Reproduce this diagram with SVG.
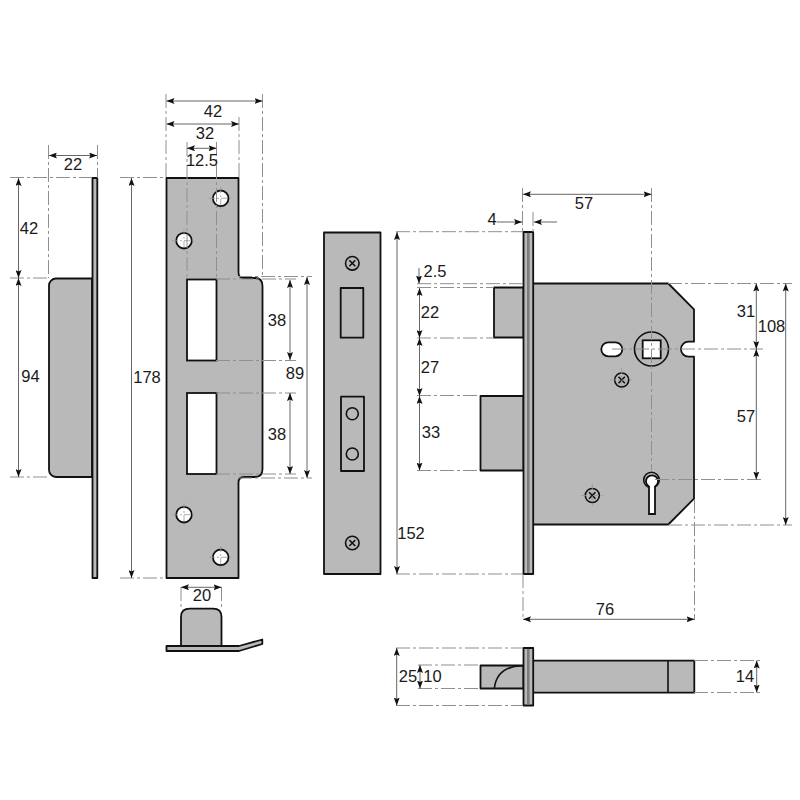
<svg xmlns="http://www.w3.org/2000/svg" width="800" height="800" viewBox="0 0 800 800">
<defs>
<marker id="a" viewBox="0 0 8 6" refX="8" refY="3" markerWidth="8" markerHeight="6" orient="auto-start-reverse" markerUnits="userSpaceOnUse"><path d="M0 0L8 3L0 6L1.5 3Z" fill="#111"/></marker>
</defs>
<style>
.p{fill:#b9b9b9;stroke:#111;stroke-width:1.8;stroke-linejoin:round}
.w{fill:#fff;stroke:#111;stroke-width:1.8}
.o{fill:none;stroke:#111;stroke-width:1.6}
.e{fill:none;stroke:#8f8f8f;stroke-width:1;stroke-dasharray:14 3 3 3}
.d{fill:none;stroke:#666;stroke-width:1;marker-start:url(#a);marker-end:url(#a)}
.s{fill:none;stroke:#666;stroke-width:1;marker-end:url(#a)}
.c{fill:none;stroke:#999;stroke-width:.8}
text{font-family:"Liberation Sans",Arial,sans-serif;font-size:16.5px;fill:#1a1a1a;text-anchor:middle}
</style>
<rect width="800" height="800" fill="#fff"/>
<g id="strike-side">
<path class="p" d="M92 278.500H56a7 7 0 0 0-7 7V470a7 7 0 0 0 7 7H92Z"/>
<rect class="p" x="92.500" y="178" width="4.800" height="400"/>
</g>
<g id="strike-front">
<path class="p" d="M166.500 178H238.500V272.500Q238.500 278 244 278H255Q262.500 278 262.500 286V469Q262.500 477 255 477H244Q238.500 477 238.500 482.500V578H166.500Z"/>
<rect class="w" x="187" y="279.500" width="29.500" height="81"/>
<rect class="w" x="187" y="393" width="29.500" height="81"/>
<circle class="w" cx="220.700" cy="198.300" r="7.800"/>
<circle class="w" cx="184" cy="240.700" r="7.800"/>
<circle class="w" cx="184" cy="514.700" r="7.800"/>
<circle class="w" cx="220.700" cy="557.300" r="7.800"/>
<path class="c" d="M209 198.300h24M220.700 187v23M172 240.700h24M184 229v23M172 514.700h24M184 503v23M209 557.300h24M220.700 546v23" stroke-dasharray="6 2 2 2"/>
</g>
<g id="strike-end">
<path class="p" d="M181 646V617Q181 608.700 190 608.700H213Q221.500 608.700 221.500 617V646Z"/>
<path class="p" d="M166.500 646H239L262.300 639.500V644L239 651H166.500Z"/>
</g>
<g id="front-plate">
<rect class="p" x="324" y="232.500" width="56.500" height="341.500"/>
<rect class="p" x="340.700" y="288" width="22.600" height="49.700"/>
<rect class="p" x="341" y="396.700" width="23" height="74.300"/>
<circle class="o" cx="352.300" cy="413.700" r="6"/>
<circle class="o" cx="352.300" cy="454" r="6"/>
<circle class="o" cx="352.300" cy="263.300" r="6.800"/>
<path class="o" d="M349.300 260.300l6 6M355.300 260.300l-6 6"/>
<circle class="o" cx="352.300" cy="543" r="6.800"/>
<path class="o" d="M349.300 540l6 6M355.300 540l-6 6"/>
</g>
<g id="lock-case">
<rect class="p" x="494" y="287.500" width="29.500" height="50"/>
<rect class="p" x="480.500" y="396" width="43" height="74.500"/>
<path class="p" d="M533 283.500H668.300L694 309.300V341.700H688.500A7.500 7.500 0 0 0 688.500 356.700H694V498.700L668.300 524.500H533Z"/>
<rect class="p" x="523.500" y="232" width="9.700" height="342"/>
<rect x="527" y="233" width="2.600" height="340" fill="#7d7d7d"/>
<rect class="w" x="601.300" y="342.300" width="21" height="14" rx="7"/>
<circle class="o" cx="651.500" cy="349" r="17" stroke-width="1.800"/>
<rect class="w" x="642.700" y="340.300" width="18" height="18"/>
<circle class="o" cx="621.700" cy="380" r="7"/>
<path class="o" d="M618.500 376.800l6.400 6.400M624.900 376.800l-6.400 6.400"/>
<circle class="o" cx="592.300" cy="495.500" r="7"/>
<path class="o" d="M589.100 492.300l6.400 6.400M595.500 492.300l-6.400 6.400"/>
<path class="c" d="M610 380h23M621.700 368v24M581 495.500h23M592.300 484v23" stroke-dasharray="6 2 2 2"/>
<circle class="o" cx="651.500" cy="480" r="7.800" stroke-width="1"/>
<path class="w" d="M649 486.500A6 6 0 1 1 655 486.500V514H649Z"/>
</g>
<g id="lock-plan">
<rect class="p" x="480.500" y="665.500" width="43" height="23"/>
<path class="o" d="M494.300 688.500Q497 666 523 665.700"/>
<rect class="p" x="533" y="660.700" width="161.300" height="32"/>
<path class="o" d="M668 660.700V692.700"/>
<rect class="p" x="523.500" y="648" width="9.700" height="57.500"/>
<rect x="527" y="649" width="2.600" height="55.500" fill="#7d7d7d"/>
</g>
<g id="connectors">
<path class="e" d="M48.500 145V278M97.500 145V178M10 177.500H92M10 278H49M10 477H49"/>
<path class="e" d="M120 177.500H166M120 578H166M166 94V178M262.500 94V278M239 117V178M187 142V280M216.500 142V280"/>
<path class="e" d="M216 279H296M216 360.500H296M216 393H296M216 474H296M238 276.500H312M238 478H312M181 587V608M221.500 587V608"/>
<path class="e" d="M522.500 188V232M651.500 188V470M533 212V232M396 231.700H523M396 574H523M417 283.700H523M417 287.500H494M417 338H494M417 395.500H480M417 470.500H480"/>
<path class="e" d="M668 283.500H792M612 349H763M655 479.500H762M668 525H792M523 574V620M694.500 499V620"/>
<path class="e" d="M396 648H523M396 705.500H523M418 665H480M418 688.500H480M694 660.500H760M694 692.500H760"/>
<path class="d" d="M49 155.500H97"/>
<path class="d" d="M18.500 178V278"/>
<path class="d" d="M18.500 278V477"/>
<path class="d" d="M131.500 178V578"/>
<path class="d" d="M166.500 101H262.500"/>
<path class="d" d="M166.500 124H239"/>
<path class="d" d="M187 148.300H216.500"/>
<path class="d" d="M290 280V360"/>
<path class="d" d="M290 393V474"/>
<path class="d" d="M307 277V478"/>
<path class="d" d="M181 587.300H221.500"/>
<path class="d" d="M523 194.300H651.500"/>
<path class="s" d="M497 222H522"/>
<path class="s" d="M557 222H534"/>
<path class="d" d="M397 232V574"/>
<path class="s" d="M419 268V283.500"/>
<path class="d" d="M419.500 288V338"/>
<path class="d" d="M419.500 338V396"/>
<path class="d" d="M419.500 396V470.500"/>
<path class="d" d="M756.300 283.500V349"/>
<path class="d" d="M756.300 349V479.500"/>
<path class="d" d="M785.700 283.500V525"/>
<path class="d" d="M523 619.300H694.500"/>
<path class="d" d="M396.700 648V705.500"/>
<path class="d" d="M420 665V688.500"/>
<path class="d" d="M756.700 660.500V692.500"/>
</g>
<g id="labels">
<text x="73" y="170">22</text>
<text x="29" y="234">42</text>
<text x="30.500" y="382">94</text>
<text x="147" y="383">178</text>
<text x="213" y="116.700">42</text>
<text x="205" y="139">32</text>
<text x="202" y="165.700">12.5</text>
<text x="277" y="326">38</text>
<text x="295" y="379">89</text>
<text x="277" y="440">38</text>
<text x="202" y="600.700">20</text>
<text x="584" y="209">57</text>
<text x="492" y="225">4</text>
<text x="411" y="539">152</text>
<text x="435" y="276.700">2.5</text>
<text x="430" y="318">22</text>
<text x="430" y="372.700">27</text>
<text x="431" y="438">33</text>
<text x="746" y="316.700">31</text>
<text x="746" y="421.700">57</text>
<text x="771.500" y="332">108</text>
<text x="605" y="614.700">76</text>
<text x="408" y="681.700">25</text>
<text x="432.500" y="681.700">10</text>
<text x="745" y="681.700">14</text>
</g>
</svg>
